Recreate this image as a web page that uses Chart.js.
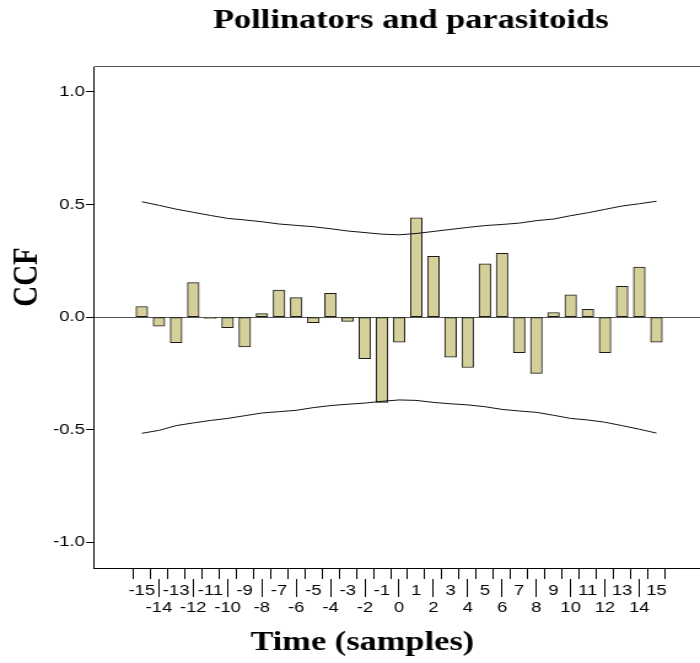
<!DOCTYPE html>
<html>
<head>
<meta charset="utf-8">
<title>Pollinators and parasitoids</title>
<script src="https://cdn.jsdelivr.net/npm/chart.js@4/dist/chart.umd.min.js"></script>
<style>
  html, body { margin: 0; padding: 0; background: #fff; }
</style>
</head>
<body>
<!-- drawn at 570px wide and stretched to 700px, like the original export -->
<canvas id="ccfChart" width="570" height="663" style="display:block;width:700px;height:663px"></canvas>
<script>
const lags = [-15, -14, -13, -12, -11, -10, -9, -8, -7, -6, -5, -4, -3, -2, -1, 0,
              1, 2, 3, 4, 5, 6, 7, 8, 9, 10, 11, 12, 13, 14, 15];
const ccf = [0.047, -0.041, -0.114, 0.153, -0.006, -0.047, -0.133, 0.015, 0.120, 0.086,
             -0.025, 0.105, -0.019, -0.185, -0.379, -0.111,
             0.440, 0.270, -0.178, -0.224, 0.236, 0.283, -0.158, -0.250, 0.020, 0.099,
             0.034, -0.158, 0.136, 0.222, -0.111];
const upperLimit = [0.512, 0.496, 0.479, 0.465, 0.451, 0.438, 0.431, 0.423, 0.413, 0.407,
                    0.401, 0.392, 0.382, 0.375, 0.368, 0.365,
                    0.371, 0.380, 0.389, 0.398, 0.406, 0.411, 0.417, 0.428, 0.435, 0.450,
                    0.463, 0.478, 0.493, 0.503, 0.514];
const lowerLimit = [-0.516, -0.503, -0.482, -0.470, -0.459, -0.450, -0.438, -0.426, -0.420, -0.414,
                    -0.402, -0.393, -0.387, -0.382, -0.374, -0.368,
                    -0.370, -0.379, -0.385, -0.390, -0.398, -0.410, -0.417, -0.423, -0.436, -0.450,
                    -0.457, -0.467, -0.482, -0.498, -0.515];
const yTicks = [-1, -0.5, 0, 0.5, 1];

const chartTitle = 'Pollinators and parasitoids';
const xTitle = 'Time (samples)';
const yTitle = 'CCF';

const barColor = '#d5d09a';
const tickFont = { family: '"Liberation Sans", Arial, sans-serif', size: 15, lineHeight: 17 / 15 };
const titleFont = 'bold 28px "Liberation Serif", "Times New Roman", serif';

// top frame line, long ticks under even lags, and the three titles
const framePlugin = {
    id: 'frame',
    afterDraw(chart) {
        const ctx = chart.ctx;
        const area = chart.chartArea;
        const xScale = chart.scales.x;

        ctx.save();
        ctx.lineWidth = 1;
        ctx.strokeStyle = '#555';
        ctx.beginPath();
        ctx.moveTo(area.left, Math.round(area.top) - 0.5);
        ctx.lineTo(area.right, Math.round(area.top) - 0.5);
        ctx.stroke();

        ctx.strokeStyle = '#000';
        ctx.beginPath();
        lags.forEach(function (v) {
            if (v % 2 !== 0) {
                return;
            }
            const px = Math.round(xScale.getPixelForValue(v) - 0.5) + 0.5;
            ctx.moveTo(px, area.bottom + 11);
            ctx.lineTo(px, area.bottom + 29);
        });
        ctx.stroke();

        ctx.fillStyle = '#000';
        ctx.font = titleFont;
        ctx.textAlign = 'center';
        ctx.textBaseline = 'alphabetic';
        ctx.fillText(chartTitle, 334.5, 28);
        ctx.fillText(xTitle, 295, 650);

        ctx.translate(30, 277);
        ctx.rotate(-Math.PI / 2);
        ctx.font = 'bold 29px "Liberation Serif", "Times New Roman", serif';
        ctx.fillText(yTitle, 0, 0);
        ctx.restore();
    }
};

const ctx = document.getElementById('ccfChart').getContext('2d');
const chart = new Chart(ctx, {
    type: 'bar',
    data: {
        datasets: [
            {
                type: 'line',
                data: lags.map((x, i) => ({ x: x, y: upperLimit[i] })),
                borderColor: '#111',
                borderWidth: 1,
                pointRadius: 0,
                tension: 0,
                order: 0
            },
            {
                type: 'line',
                data: lags.map((x, i) => ({ x: x, y: lowerLimit[i] })),
                borderColor: '#111',
                borderWidth: 1,
                pointRadius: 0,
                tension: 0,
                order: 0
            },
            {
                type: 'bar',
                data: lags.map((x, i) => ({ x: x, y: ccf[i] })),
                backgroundColor: barColor,
                borderColor: '#1a1a1a',
                borderWidth: 1,
                borderSkipped: false,
                barThickness: 9.5,
                order: 1
            }
        ]
    },
    options: {
        responsive: false,
        animation: false,
        devicePixelRatio: 1,
        layout: { padding: { top: 67, right: 0, bottom: 0, left: 0 } },
        plugins: {
            legend: { display: false },
            tooltip: { enabled: false }
        },
        scales: {
            x: {
                type: 'linear',
                min: -17.22,
                max: 16.97,
                afterBuildTicks: function (scale) {
                    scale.ticks = lags.map(v => ({ value: v }));
                },
                afterFit: function (scale) {
                    scale.height = 95;
                },
                ticks: {
                    autoSkip: false,
                    maxRotation: 0,
                    minRotation: 0,
                    padding: 3.5,
                    color: '#000',
                    font: tickFont,
                    callback: v => (v % 2 === 0 ? ['', String(v)] : String(v))
                },
                grid: {
                    drawOnChartArea: false,
                    drawTicks: true,
                    tickLength: 11,
                    tickColor: '#000',
                    tickWidth: 1
                },
                border: { display: true, color: '#000', width: 1 }
            },
            y: {
                min: -1.114,
                max: 1.11,
                afterBuildTicks: function (scale) {
                    scale.ticks = yTicks.map(v => ({ value: v }));
                },
                afterFit: function (scale) {
                    scale.width = 76.5;
                },
                ticks: {
                    padding: 1,
                    color: '#000',
                    font: tickFont,
                    callback: v => Number(v).toFixed(1)
                },
                grid: {
                    drawOnChartArea: true,
                    color: c => (c.tick && c.tick.value === 0 ? '#555' : 'rgba(0,0,0,0)'),
                    tickColor: '#000',
                    tickLength: 6.5,
                    lineWidth: 1
                },
                border: { display: true, color: '#000', width: 1 }
            }
        }
    },
    plugins: [framePlugin]
});
</script>
</body>
</html>
